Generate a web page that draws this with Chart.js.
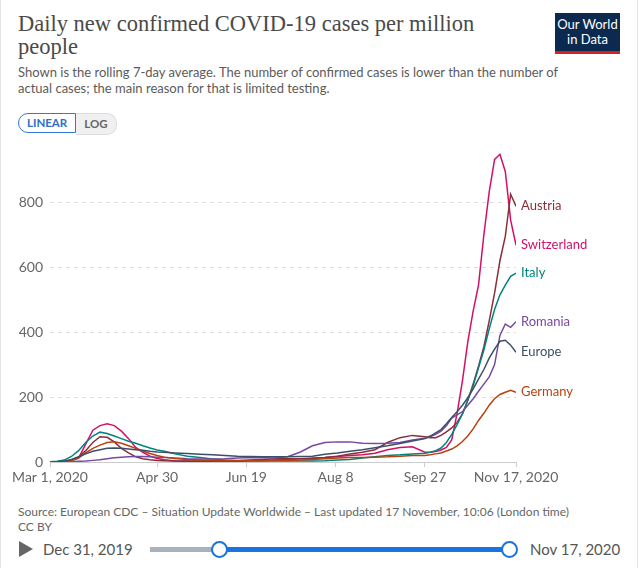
<!DOCTYPE html>
<html>
<head>
<meta charset="utf-8">
<script src="https://cdn.jsdelivr.net/npm/chart.js@4.4.0/dist/chart.umd.min.js"></script>
<style>
  body { margin: 0; width: 639px; height: 568px; background: #fff; position: relative; overflow: hidden; font-family: Lato, sans-serif; }
  .frame { position: absolute; left: 0; top: 0; width: 636px; height: 568px; border-left: 1px solid #e4e4e4; border-right: 1px solid #e4e4e4; }
  .title { position: absolute; left: 18px; top: 12px; font-family: "Liberation Serif", serif; font-size: 22.5px; line-height: 23px; color: #4a4a4a; }
  .subtitle { position: absolute; left: 18px; top: 64px; width: 572px; font-size: 13px; line-height: 16px; color: #5b5b5b; }
  .logo { position: absolute; left: 555px; top: 13px; width: 65px; background: #0c2a4f; border-bottom: 3px solid #ce261e; color: #fff; font-size: 13px; line-height: 15px; text-align: center; padding-top: 4px; height: 34px; }
  .btns { position: absolute; left: 18px; top: 113px; height: 20px; display: flex; font-size: 11.5px; font-weight: bold; }
  .btn { height: 18px; line-height: 18px; padding: 0 8px; }
  .lin { border: 1.5px solid #2f7ad8; border-radius: 10px 0 0 10px; color: #2f6fc8; background: #fff; }
  .log { border: 1px solid #ddd; border-left: none; border-radius: 0 10px 10px 0; color: #666; background: #f0f0f0; height: 19px; padding-top: 0.5px; }
  #wrap { position: absolute; left: 0; top: 135px; width: 639px; height: 355px; }
  .source { position: absolute; left: 18px; top: 504px; font-size: 12px; line-height: 15px; color: #666; }
  .play { position: absolute; left: 19px; top: 541px; width: 0; height: 0; border-top: 8px solid transparent; border-bottom: 8px solid transparent; border-left: 14px solid #666; }
  .date { position: absolute; top: 540px; font-size: 15px; color: #555; line-height: 18px; }
  .track { position: absolute; top: 547px; height: 5px; }
  .knob { position: absolute; top: 541px; width: 13px; height: 13px; border: 2px solid #1a73e0; border-radius: 50%; background: #fff; }
</style>
</head>
<body>
<div class="frame"></div>
<div class="title">Daily new confirmed COVID-19 cases per million<br>people</div>
<div class="subtitle">Shown is the rolling 7-day average. The number of confirmed cases is lower than the number of actual cases; the main reason for that is limited testing.</div>
<div class="logo">Our World<br>in Data</div>
<div class="btns"><div class="btn lin">LINEAR</div><div class="btn log">LOG</div></div>
<div id="wrap"><canvas id="covidChart"></canvas></div>
<div class="source">Source: European CDC – Situation Update Worldwide – Last updated 17 November, 10:06 (London time)<br>CC BY</div>
<div class="play"></div>
<div class="date" style="left:43px">Dec 31, 2019</div>
<div class="track" style="left:150px;width:72px;background:#a9b1bb"></div>
<div class="track" style="left:220px;width:290px;background:#1a73e0"></div>
<div class="knob" style="left:211px"></div>
<div class="knob" style="left:501px"></div>
<div class="date" style="left:530px">Nov 17, 2020</div>

<script>
// days since Mar 1, 2020
const days = [0, 4, 8, 12, 16, 20, 24, 28, 32, 36, 40, 44, 48, 52, 56, 60, 64,
  70, 77, 84, 91, 98, 105, 112, 119, 126, 133, 140, 147, 154, 161, 168, 175, 182, 189, 196, 203,
  210, 213, 216, 219, 222, 225, 228, 231, 234, 237, 240, 243, 246, 249, 252, 255, 258, 261];

const austria = [0, 0.3, 1, 5, 15, 35, 60, 78, 76, 62, 42, 28, 16, 10, 7, 5, 4,
  3, 3, 3, 3, 4, 4, 6, 8, 10, 10, 10, 11, 14, 18, 25, 30, 38, 60, 75, 82,
  78, 75, 75, 82, 93, 105, 122, 148, 190, 240, 295, 355, 435, 520, 620, 695, 825, 788];

const switzerland = [0, 0.5, 2, 5, 12, 55, 98, 112, 118, 112, 95, 72, 45, 30, 18, 11, 7,
  3, 2, 2, 2, 2, 2, 3, 4, 6, 8, 10, 12, 14, 17, 20, 22, 27, 38, 45, 47,
  30, 30, 32, 37, 45, 68, 150, 250, 370, 465, 545, 700, 832, 932, 948, 895, 745, 668];

const italy = [0.5, 2, 6, 17, 35, 60, 80, 92, 88, 80, 72, 64, 58, 50, 43, 37, 33,
  25, 18, 14, 9, 6, 5, 4, 3, 3, 3, 3, 3, 4, 6, 8, 12, 16, 20, 22, 25,
  27, 30, 35, 43, 60, 85, 115, 148, 190, 235, 290, 345, 410, 470, 515, 545, 572, 582];

const romania = [0, 0, 0.3, 1, 2, 3, 5, 7, 10, 13, 15, 16, 17, 17, 16, 15, 14,
  12, 10, 9, 9, 10, 12, 14, 13, 12, 16, 30, 50, 60, 62, 62, 58, 57, 58, 60, 68,
  73, 78, 85, 95, 112, 135, 145, 155, 175, 195, 218, 240, 262, 300, 390, 425, 415, 432];

const europe = [0.3, 1, 3, 8, 16, 25, 33, 38, 42, 43, 42, 40, 38, 36, 33, 31, 30,
  28, 26, 24, 22, 20, 18, 17, 16, 16, 16, 17, 18, 24, 28, 33, 38, 44, 50, 57, 65,
  72, 80, 90, 100, 118, 137, 155, 175, 198, 225, 255, 285, 320, 348, 372, 375, 360, 338];

const germany = [0, 0.5, 1, 4, 12, 28, 42, 52, 60, 62, 58, 50, 42, 34, 26, 20, 15,
  11, 8, 6, 5, 4, 4, 5, 5, 5, 5, 6, 8, 10, 12, 14, 14, 15, 16, 18, 20,
  20, 22, 25, 28, 34, 40, 50, 63, 80, 102, 128, 150, 175, 195, 208, 215, 221, 215];

const tickDays = [0, 60, 110, 160, 210, 261];
const tickLabels = ['Mar 1, 2020', 'Apr 30', 'Jun 19', 'Aug 8', 'Sep 27', 'Nov 17, 2020'];
const yTicks = [0, 200, 400, 600, 800];

const series = [
  { label: 'Europe', data: europe, color: '#3d4f68' },
  { label: 'Germany', data: germany, color: '#b8420f' },
  { label: 'Romania', data: romania, color: '#7649a3' },
  { label: 'Italy', data: italy, color: '#00847e' },
  { label: 'Austria', data: austria, color: '#883039' },
  { label: 'Switzerland', data: switzerland, color: '#d40f69' }
];

const endLabels = {
  id: 'endLabels',
  afterDatasetsDraw(chart) {
    const ctx = chart.ctx;
    ctx.save();
    ctx.font = '13px Lato';
    ctx.textBaseline = 'middle';
    chart.data.datasets.forEach((ds, i) => {
      const pts = chart.getDatasetMeta(i).data;
      const last = pts[pts.length - 1];
      ctx.fillStyle = ds.borderColor;
      ctx.fillText(ds.label, last.x + 5, last.y);
    });
    ctx.restore();
  }
};

const covidChart = document.getElementById('covidChart').getContext('2d');
new Chart(covidChart, {
  type: 'line',
  data: {
    datasets: series.map(s => ({
      label: s.label,
      data: days.map((d, i) => ({ x: d, y: s.data[i] })),
      borderColor: s.color,
      backgroundColor: s.color,
      borderWidth: 1.5,
      pointRadius: 0,
      tension: 0
    }))
  },
  options: {
    responsive: true,
    maintainAspectRatio: false,
    animation: false,
    layout: { padding: { top: 5, right: 123, left: 0, bottom: 0 } },
    plugins: { legend: { display: false }, tooltip: { enabled: false } },
    scales: {
      x: {
        type: 'linear',
        min: 0,
        max: 261,
        afterFit: (scale) => { scale.height = 28; },
        afterBuildTicks: (scale) => { scale.ticks = tickDays.map(v => ({ value: v })); },
        grid: { drawOnChartArea: false, drawTicks: true, tickLength: 5, color: '#ccc' },
        border: { display: true, color: '#ccc' },
        ticks: {
          autoSkip: false,
          maxRotation: 0,
          padding: 2,
          color: '#666',
          font: { family: 'Lato', size: 14 },
          callback: (value) => tickLabels[tickDays.indexOf(value)]
        }
      },
      y: {
        min: 0,
        max: 960,
        afterFit: (scale) => { scale.width = 50; },
        afterBuildTicks: (scale) => { scale.ticks = yTicks.map(v => ({ value: v })); },
        grid: { color: '#ddd', drawTicks: false },
        border: { display: false, dash: [4, 4] },
        ticks: {
          padding: 7,
          color: '#666',
          font: { family: 'Lato', size: 14 }
        }
      }
    }
  },
  plugins: [endLabels]
});
</script>
</body>
</html>
